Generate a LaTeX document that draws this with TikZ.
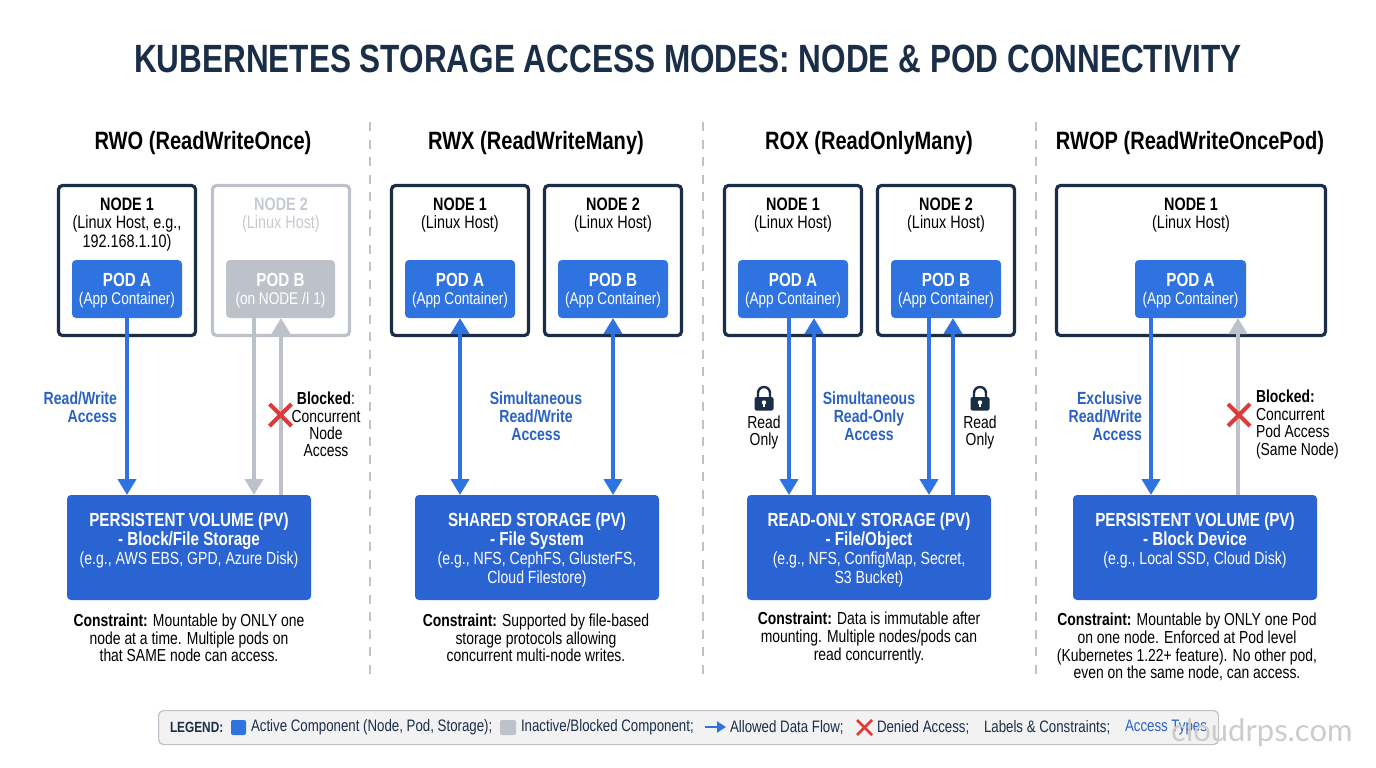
\documentclass[tikz,border=0pt]{standalone}
\usepackage{fontspec}
\setmainfont[FakeStretch=0.8]{Liberation Sans}
\newfontfamily\wmfont{Lato}
\usetikzlibrary{arrows.meta,calc}
\definecolor{ink}{HTML}{1B2E48}
\definecolor{actblue}{HTML}{2F73E0}
\definecolor{pvblue}{HTML}{2A63D2}
\definecolor{lblblue}{HTML}{2A62C4}
\definecolor{inact}{HTML}{BDC2CA}
\definecolor{inacttxt}{HTML}{C6CAD1}
\definecolor{denied}{HTML}{DE3A3A}
\definecolor{sepgray}{HTML}{BFC3C8}
\tikzset{
  hostbox/.style={draw=ink,line width=3.2pt,rounded corners=4pt,fill=white,inner sep=0pt,outer sep=0pt},
  hostoff/.style={hostbox,draw=inact},
  podbox/.style={fill=actblue,rounded corners=4pt,inner sep=0pt,outer sep=0pt},
  podoff/.style={podbox,fill=inact},
  pvbox/.style={fill=pvblue,rounded corners=4pt,inner sep=0pt,outer sep=0pt},
  txt/.style={align=center,inner sep=0pt,outer sep=0pt,text=black},
  heading/.style={txt,font=\fontsize{25.1}{28}\selectfont\bfseries},
  hosttxt/.style={txt,font=\fontsize{18}{18.6}\selectfont},
  podtxt/.style={txt,text=white,font=\fontsize{17}{18}\selectfont},
  pvtxt/.style={txt,text=white,font=\fontsize{17.6}{19}\selectfont},
  contxt/.style={txt,font=\fontsize{17.4}{17.7}\selectfont},
  lbl/.style={txt,font=\fontsize{17.4}{17.4}\selectfont},
  lblb/.style={lbl,text=lblblue,font=\fontsize{17.6}{18}\selectfont\bfseries},
  flow/.style={line width=4pt,draw=actblue,-{Triangle[width=18pt,length=16pt]}},
  flowboth/.style={line width=4pt,draw=actblue,{Triangle[width=18pt,length=16pt]}-{Triangle[width=18pt,length=16pt]}},
  flowoff/.style={flow,draw=inact},
  sepline/.style={draw=sepgray,line width=2pt,dash pattern=on 9pt off 8.5pt},
  xmark/.style={draw=denied,line width=4.2pt},
  legtxt/.style={inner sep=0pt,outer sep=0pt,anchor=west,text=ink,font=\fontsize{16.6}{18}\selectfont},
}
\newcommand{\rectnode}[6]{\node[#6,anchor=north west,minimum width=#4pt-#2pt,minimum height=#5pt-#3pt] (#1) at (#2,#3) {};}
\newcommand{\hostnode}[6]{\node[#6,anchor=north west,minimum width=#4pt-#2pt-3pt,minimum height=#5pt-#3pt-3pt] (#1) at (#2+1.5,#3+1.5) {};}
\newcommand{\pvb}[1]{{\fontsize{19}{19}\selectfont\bfseries #1}}
\newcommand{\lockicon}[2]{%
  \draw[ink,line width=2.4pt] (#1-6,#2+1) -- (#1-6,#2-4) arc[start angle=180,end angle=360,radius=6] -- (#1+6,#2+1);
  \fill[ink,rounded corners=2pt] (#1-9.5,#2) rectangle (#1+9.5,#2+13.5);
  \fill[white] (#1,#2+5.5) circle[radius=2.2];
  \fill[white] (#1-1,#2+5.5) rectangle (#1+1,#2+10);
}
\newcommand{\xicon}[2]{%
  \draw[xmark] (#1-11,#2-11) -- (#1+11,#2+11);
  \draw[xmark] (#1-11,#2+11) -- (#1+11,#2-11);
}
\begin{document}
\begin{tikzpicture}[x=1pt,y=-1pt]
\useasboundingbox (0,0) rectangle (1376,768);
\fill[white] (0,0) rectangle (1376,768);

\node[txt,text=ink,font=\fontsize{39.4}{42}\selectfont\bfseries] (title) at (688,59) {KUBERNETES STORAGE ACCESS MODES: NODE \& POD CONNECTIVITY};

% separators
\coordinate (s1a) at (370,122); \coordinate (s1b) at (370,675);
\coordinate (s2a) at (703,122); \coordinate (s2b) at (703,675);
\coordinate (s3a) at (1036,122); \coordinate (s3b) at (1036,675);
\draw[sepline] (s1a) -- (s1b);
\draw[sepline] (s2a) -- (s2b);
\draw[sepline] (s3a) -- (s3b);

% headings
\node[heading] (h1) at (203,143.5) {RWO (ReadWriteOnce)};
\node[heading] (h2) at (536,143.5) {RWX (ReadWriteMany)};
\node[heading] (h3) at (869,143.5) {ROX (ReadOnlyMany)};
\node[heading] (h4) at (1190,143.5) {RWOP (ReadWriteOncePod)};

% hosts
\hostnode{n11}{57}{184}{197}{337}{hostbox}
\hostnode{n12}{211}{184}{351}{337}{hostoff}
\hostnode{n21}{390}{184}{530}{337}{hostbox}
\hostnode{n22}{543}{184}{683}{337}{hostbox}
\hostnode{n31}{723}{184}{863}{337}{hostbox}
\hostnode{n32}{876}{184}{1016}{337}{hostbox}
\hostnode{n41}{1055}{184}{1327}{337}{hostbox}

\node[hosttxt] (t11) at (127,224.5) {\textbf{NODE 1}\\(Linux Host, e.g.,\\192.168.1.10)};
\node[hosttxt,text=inacttxt] (t12) at (281,215) {\textbf{NODE 2}\\(Linux Host)};
\node[hosttxt] (t21) at (460,215) {\textbf{NODE 1}\\(Linux Host)};
\node[hosttxt] (t22) at (613,215) {\textbf{NODE 2}\\(Linux Host)};
\node[hosttxt] (t31) at (793,215) {\textbf{NODE 1}\\(Linux Host)};
\node[hosttxt] (t32) at (946,215) {\textbf{NODE 2}\\(Linux Host)};
\node[hosttxt] (t41) at (1191,215) {\textbf{NODE 1}\\(Linux Host)};

% pods
\rectnode{p11}{72}{260}{182}{318}{podbox}
\rectnode{p12}{226}{260}{335}{318}{podoff}
\rectnode{p21}{405}{260}{515}{318}{podbox}
\rectnode{p22}{558}{260}{668}{318}{podbox}
\rectnode{p31}{738}{260}{848}{318}{podbox}
\rectnode{p32}{891}{260}{1001}{318}{podbox}
\rectnode{p41}{1135}{260}{1246}{318}{podbox}

\newcommand{\podlabel}[3]{\node[podtxt,yshift=-2pt] at (#1.center) {{\fontsize{19}{18}\selectfont\bfseries #2}\\#3};}
\podlabel{p11}{POD A}{(App Container)}
\podlabel{p12}{POD B}{(on NODE /I 1)}
\podlabel{p21}{POD A}{(App Container)}
\podlabel{p22}{POD B}{(App Container)}
\podlabel{p31}{POD A}{(App Container)}
\podlabel{p32}{POD B}{(App Container)}
\podlabel{p41}{POD A}{(App Container)}

% storage
\rectnode{v1}{67}{495}{311}{600}{pvbox}
\rectnode{v2}{415}{495}{659}{600}{pvbox}
\rectnode{v3}{747}{495}{991}{600}{pvbox}
\rectnode{v4}{1073}{495}{1317}{600}{pvbox}

\node[pvtxt,yshift=7.5pt] at (v1.center) {\pvb{PERSISTENT VOLUME (PV)}\\\pvb{- Block/File Storage}\\(e.g., AWS EBS, GPD, Azure Disk)};
\node[pvtxt,yshift=-2.5pt] at (v2.center) {\pvb{SHARED STORAGE (PV)}\\\pvb{- File System}\\(e.g., NFS, CephFS, GlusterFS,\\Cloud Filestore)};
\node[pvtxt,yshift=-2.5pt] at (v3.center) {\pvb{READ-ONLY STORAGE (PV)}\\\pvb{- File/Object}\\(e.g., NFS, ConfigMap, Secret,\\S3 Bucket)};
\node[pvtxt,yshift=7.5pt] at (v4.center) {\pvb{PERSISTENT VOLUME (PV)}\\\pvb{- Block Device}\\(e.g., Local SSD, Cloud Disk)};

% connectors
\draw[flow] ([xshift=55pt]p11.south west) -- ([xshift=55pt]p11.south west |- v1.north);
\draw[flowoff] ([xshift=28pt]p12.south west) -- ([xshift=28pt]p12.south west |- v1.north);
\draw[flowoff] ([xshift=55pt]p12.south west |- v1.north) -- ([xshift=55pt]p12.south west);

\draw[flowboth] ([xshift=55pt]p21.south west) -- ([xshift=55pt]p21.south west |- v2.north);
\draw[flowboth] ([xshift=55pt]p22.south west) -- ([xshift=55pt]p22.south west |- v2.north);

\draw[flow] ([xshift=51pt]p31.south west) -- ([xshift=51pt]p31.south west |- v3.north);
\draw[flow] ([xshift=76pt]p31.south west |- v3.north) -- ([xshift=76pt]p31.south west);
\draw[flow] ([xshift=38pt]p32.south west) -- ([xshift=38pt]p32.south west |- v3.north);
\draw[flow] ([xshift=62pt]p32.south west |- v3.north) -- ([xshift=62pt]p32.south west);

\draw[flow] ([xshift=16pt]p41.south west) -- ([xshift=16pt]p41.south west |- v4.north);
\draw[flowoff] ([xshift=103pt]p41.south west |- v4.north) -- ([xshift=103pt]p41.south west);

% labels
\node[lblb,align=right,anchor=east] (a1) at (117,407) {Read/Write\\Access};
\xicon{280.5}{415}
\node[lbl] (a2) at (326,424.5) {\textbf{Blocked}:\\Concurrent\\Node\\Access};
\node[lblb] (a3) at (536,416) {Simultaneous\\Read/Write\\Access};
\lockicon{764}{397}
\node[lbl] (a4) at (764,432.5) {Read\\Only};
\node[lblb] (a5) at (869,416) {Simultaneous\\Read-Only\\Access};
\lockicon{980}{397}
\node[lbl] (a6) at (980,432.5) {Read\\Only};
\node[lblb,align=right,anchor=east] (a7) at (1142,416) {Exclusive\\Read/Write\\Access};
\xicon{1239}{415}
\node[lbl,align=left,anchor=west] (a8) at (1256,424.5) {\textbf{Blocked:}\\Concurrent\\Pod Access\\(Same Node)};

% constraints
\node[contxt] (c1) at (189,638) {\textbf{Constraint:} Mountable by ONLY one\\node at a time. Multiple pods on\\that SAME node can access.};
\node[contxt] (c2) at (536,638) {\textbf{Constraint:} Supported by file-based\\storage protocols allowing\\concurrent multi-node writes.};
\node[contxt] (c3) at (869,638) {\textbf{Constraint:} Data is immutable after\\mounting. Multiple nodes/pods can\\read concurrently.};
\node[contxt] (c4) at (1187,647) {\textbf{Constraint:} Mountable by ONLY one Pod\\on one node. Enforced at Pod level\\(Kubernetes 1.22+ feature). No other pod,\\even on the same node, can access.};

% legend
\rectnode{leg}{158}{710}{1218}{744}{draw=inact,line width=1.2pt,fill=black!5!white,rounded corners=5pt}
\node[legtxt,font=\fontsize{14.8}{18}\selectfont\bfseries] (l0) at (170,727.5) {LEGEND:};
\fill[actblue,rounded corners=2pt] (231,720) rectangle (246,735);
\node[legtxt] (l1) at (251,727.5) {Active Component (Node, Pod, Storage);};
\fill[inact,rounded corners=2pt] (500,720) rectangle (516,735);
\node[legtxt] (l2) at (521,727.5) {Inactive/Blocked Component;};
\coordinate (la) at (705,727); \coordinate (lb) at (726,727);
\draw[actblue,line width=2.6pt,-{Triangle[width=11pt,length=9pt]}] (la) -- (lb);
\node[legtxt] (l3) at (730,727.5) {Allowed Data Flow;};
\draw[denied,line width=2.6pt] (857,720) -- (872,735);
\draw[denied,line width=2.6pt] (857,735) -- (872,720);
\node[legtxt] (l4) at (877,727.5) {Denied Access;};
\node[legtxt] (l5) at (984,727.5) {Labels \& Constraints;};
\node[legtxt,text=lblblue] (l6) at (1125,727.5) {Access Types};

% watermark
\node[inner sep=0pt,anchor=west,text=black!20,font=\fontsize{31}{36}\wmfont] (wm) at (1171,733) {cloudrps.com};
\end{tikzpicture}
\end{document}
